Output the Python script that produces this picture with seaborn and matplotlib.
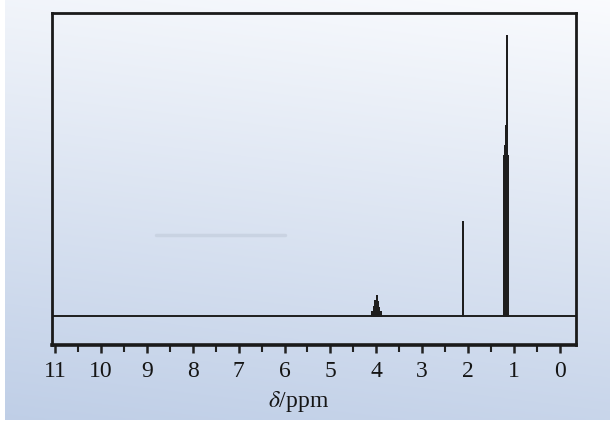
import numpy as np
import pandas as pd
import matplotlib
matplotlib.use("Agg")
import matplotlib.pyplot as plt
import seaborn as sns

# peak sticks of the spectrum (ppm, intensity in arbitrary units)
quartet_ppm = [4.09, 4.05, 4.02, 3.99, 3.96, 3.93, 3.89]
quartet_int = [4, 9, 15, 20, 14, 8, 4]
singlet_ppm = [2.11]
singlet_int = [94]
triplet_ppm = [1.22, 1.20, 1.17, 1.15, 1.12]
triplet_int = [160, 170, 190, 280, 160]

# faint trace (integration smudge on the original scan)
smudge_ppm = [8.8, 6.0]
smudge_int = [81, 81]

tick_vals = list(range(0, 12))
tick_labels = [str(v) for v in tick_vals]

sns.set_style("ticks")
plt.rcParams['font.family'] = ['Liberation Serif', 'DejaVu Serif']
plt.rcParams['mathtext.fontset'] = 'stix'

fig = plt.figure(figsize=(6.14, 4.27), dpi=100)
fig.patch.set_facecolor("white")

# gradient background
bg = fig.add_axes([0.008, 0.015, 0.985, 0.985], zorder=0)
gy = np.linspace(0, 1, 200)[:, None]
gx = np.linspace(0, 1, 200)[None, :]
t = np.clip(0.85 * gy + 0.15 * (1 - gx), 0, 1)
top = np.array([0.98, 0.985, 0.995])
bot = np.array([0.75, 0.81, 0.905])
img = top[None, None, :] * (1 - t[..., None]) + bot[None, None, :] * t[..., None]
bg.imshow(img, aspect="auto", origin="upper", extent=[0, 1, 0, 1])
bg.axis("off")

ax = fig.add_axes([0.0847, 0.19, 0.853, 0.777], zorder=1)
ax.patch.set_alpha(0)

# build a continuous trace: baseline with spikes at each line
xs, ys = [11.3], [0]
for p, h in sorted(zip(quartet_ppm + singlet_ppm + triplet_ppm,
                       quartet_int + singlet_int + triplet_int), reverse=True):
    xs += [p, p, p]
    ys += [0, h, 0]
xs.append(-0.5)
ys.append(0)
trace = pd.DataFrame({"ppm": xs, "intensity": ys})

sns.lineplot(data=trace, x="ppm", y="intensity", sort=False, estimator=None,
             color="#1e1e1e", linewidth=1.4, ax=ax)
ax.plot(smudge_ppm, smudge_int, color="#c4cedd", linewidth=2.5, alpha=0.7)

ax.set_xlim(11.07, -0.35)
ax.set_ylim(-29, 303)
ax.set_xticks(tick_vals)
ax.set_xticklabels(tick_labels)
ax.set_xticks(np.arange(0.5, 11, 1.0), minor=True)
ax.set_yticks([])
ax.tick_params(axis="x", which="major", direction="out", length=6, width=1.8,
               labelsize=17, pad=5, color="#222222", labelcolor="#151515")
ax.tick_params(axis="x", which="minor", direction="out", length=5, width=1.5,
               color="#222222")
for s in ax.spines.values():
    s.set_visible(True)
    s.set_linewidth(2.0)
    s.set_color("#1a1a1a")
ax.spines["bottom"].set_linewidth(2.6)

ax.set_xlabel(r"$\delta$/ppm", fontsize=17, labelpad=0, color="#151515")
ax.xaxis.set_label_coords(0.47, -0.13)
ax.xaxis.label.set_va("top")
ax.set_ylabel("")

fig.savefig("out.png", dpi=100)
